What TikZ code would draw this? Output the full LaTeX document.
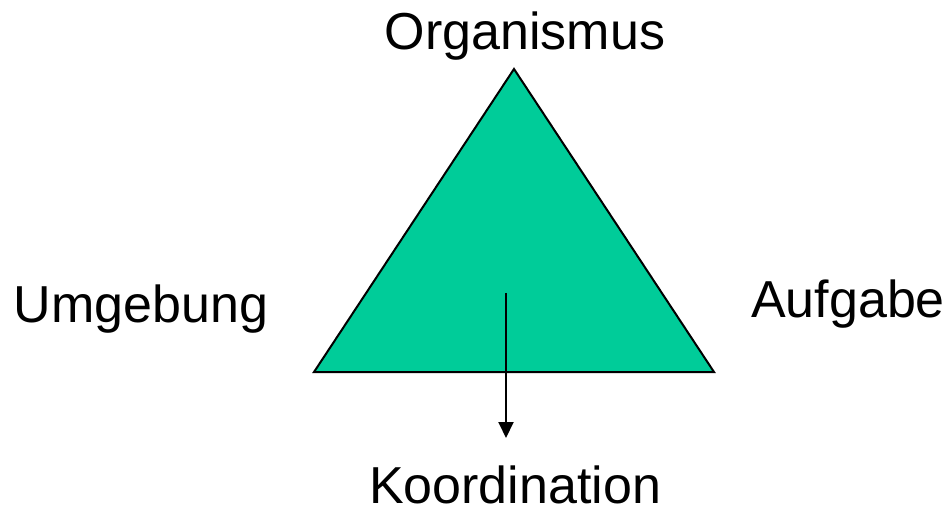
\documentclass[tikz,border=0pt]{standalone}
\usepackage{fontspec}
\setmainfont{Liberation Sans}
\usetikzlibrary{arrows.meta,positioning}
\definecolor{mygreen}{RGB}{0,204,153}

\begin{document}
\begin{tikzpicture}[x=1pt, y=-1pt, line width=2pt,
    lbl/.style={inner sep=0pt, anchor=base, font=\fontsize{52}{60}\selectfont}]
  \useasboundingbox (0,0) rectangle (952,518);
  \coordinate (apex) at (514,69);
  \coordinate (bl) at (314,372);
  \coordinate (br) at (714,372);
  \draw[fill=mygreen, line join=miter] (apex) -- (br) -- (bl) -- cycle;
  \node[lbl](org) at (525,50){Organismus};
  \node[lbl](umg) at (141,322){Umgebung};
  \node[lbl](auf) at (848,317){Aufgabe};
  \node[lbl](koo) at (515,503){Koordination};
  \coordinate (s) at (506,293);
  \coordinate (e) at (506,438);
  \draw[-{Triangle[width=15pt,length=16pt]}] (s) -- (e);
\end{tikzpicture}
\end{document}
